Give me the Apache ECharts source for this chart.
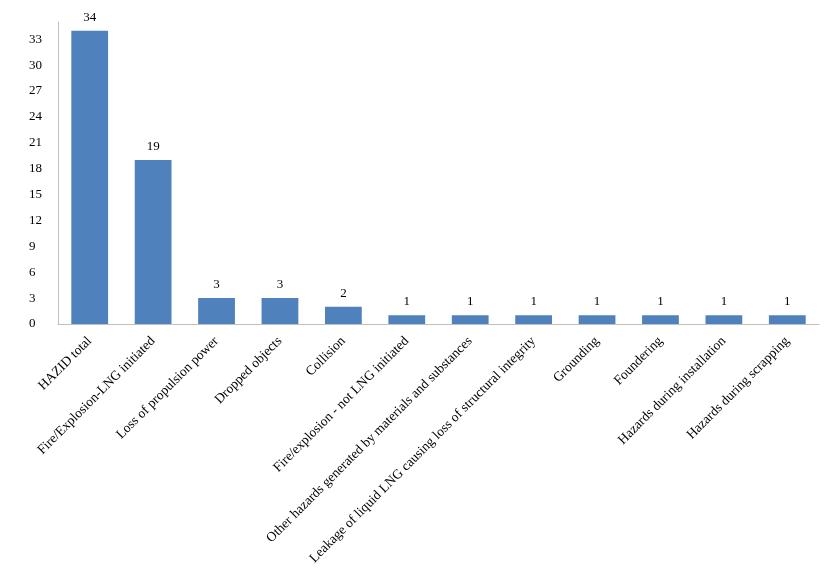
<!DOCTYPE html>
<html>
<head>
<meta charset="utf-8">
<script src="https://cdn.jsdelivr.net/npm/echarts@6/dist/echarts.min.js"></script>
<style>
  html, body { margin: 0; padding: 0; background: #fff; }
  #chart { width: 833px; height: 572px; }
</style>
</head>
<body>
<div id="chart"></div>
<script>
// hazard categories and counts
const categories = [
  'HAZID total',
  'Fire/Explosion-LNG initiated',
  'Loss of propulsion power',
  'Dropped objects',
  'Collision',
  'Fire/explosion - not LNG initiated',
  'Other hazards generated by materials and substances',
  'Leakage of liquid LNG causing loss of structural integrity',
  'Grounding',
  'Foundering',
  'Hazards during installation',
  'Hazards during scrapping'
]
const counts = [34, 19, 3, 3, 2, 1, 1, 1, 1, 1, 1, 1]

const serif = '"Liberation Serif", "DejaVu Serif", serif'

const chart = echarts.init(document.getElementById('chart'))

chart.setOption({
  animation: false,
  grid: {
    left: 58,
    right: 14,
    top: 22,
    bottom: 248
  },
  xAxis: {
    type: 'category',
    data: categories,
    axisLine: { lineStyle: { color: '#bfbfbf' } },
    axisTick: { show: false },
    axisLabel: {
      interval: 0,
      rotate: 45,
      margin: 15,
      fontFamily: serif,
      fontSize: 13.5,
      color: '#000'
    }
  },
  yAxis: {
    type: 'value',
    min: 0,
    max: 35,
    interval: 3,
    axisLine: { show: true, lineStyle: { color: '#bfbfbf' } },
    axisTick: { show: false },
    splitLine: { show: false },
    axisLabel: {
      showMaxLabel: false,
      margin: 29,
      align: 'left',
      fontFamily: serif,
      fontSize: 13,
      color: '#000'
    }
  },
  series: [{
    type: 'bar',
    data: counts,
    barWidth: '58%',
    itemStyle: { color: '#4f81bd' },
    label: {
      show: true,
      position: 'top',
      distance: 7,
      fontFamily: serif,
      fontSize: 13,
      color: '#000'
    }
  }]
})
</script>
</body>
</html>
